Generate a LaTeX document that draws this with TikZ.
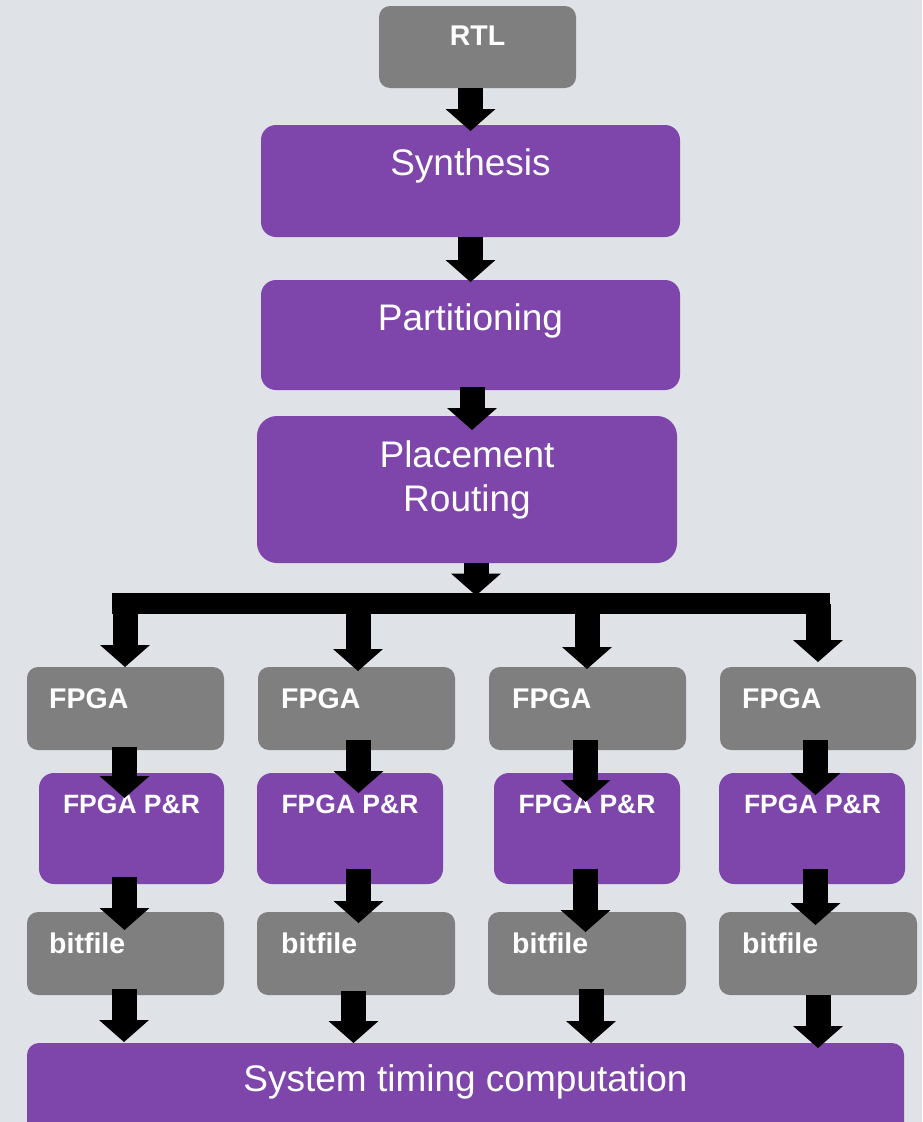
\documentclass[tikz,border=0pt]{standalone}
\usepackage{fontspec}
\setmainfont{Liberation Sans}
\usetikzlibrary{arrows.meta,calc}
\definecolor{canvas}{HTML}{DFE2E7}
\definecolor{boxgray}{HTML}{7F7F7F}
\definecolor{boxpurple}{HTML}{7E45AB}
\begin{document}
\begin{tikzpicture}[x=1pt,y=-1pt,
  box/.style={anchor=north west, inner sep=0pt, outer sep=0pt, draw=none},
  graybox/.style={box, fill=boxgray, rounded corners=11pt},
  purplebox/.style={box, fill=boxpurple, rounded corners=15pt},
  biglabel/.style={text=white, font=\fontsize{37}{44}\selectfont, inner sep=0pt, anchor=base, align=center},
  smalllabel/.style={text=white, font=\bfseries\fontsize{28.5}{34}\selectfont, inner sep=0pt},
  prlabel/.style={text=white, font=\bfseries\fontsize{26.5}{32}\selectfont, inner sep=0pt, anchor=base},
  blk/.style={draw=black, line width=25pt, -{Triangle[width=50pt,length=22pt,line width=0pt]}},
  bus/.style={draw=black, line width=21pt, line cap=butt}
]
% page and background
\path[use as bounding box] (0,0) rectangle (922,1122);
\clip (0,0) rectangle (922,1122);
\fill[canvas] (0,0) rectangle (922,1122);

% main flow
\node[graybox, minimum width=197pt, minimum height=82pt] (rtl) at (379,6) {};
\node[purplebox, minimum width=419pt, minimum height=112pt] (syn) at (261,125) {};
\node[purplebox, minimum width=419pt, minimum height=110pt] (part) at (261,280) {};
\node[purplebox, minimum width=420pt, minimum height=147pt, rounded corners=20pt] (place) at (257,416) {};

% per-FPGA columns
\node[graybox, minimum width=197pt, minimum height=83pt] (fpga1) at (27,667) {};
\node[graybox, minimum width=197pt, minimum height=83pt] (fpga2) at (258,667) {};
\node[graybox, minimum width=197pt, minimum height=83pt] (fpga3) at (489,667) {};
\node[graybox, minimum width=196pt, minimum height=83pt] (fpga4) at (720,667) {};

\node[purplebox, minimum width=185pt, minimum height=111pt] (pr1) at (39,773) {};
\node[purplebox, minimum width=186pt, minimum height=111pt] (pr2) at (257,773) {};
\node[purplebox, minimum width=186pt, minimum height=111pt] (pr3) at (494,773) {};
\node[purplebox, minimum width=186pt, minimum height=111pt] (pr4) at (719,773) {};

\node[graybox, minimum width=197pt, minimum height=83pt] (bit1) at (27,912) {};
\node[graybox, minimum width=198pt, minimum height=83pt] (bit2) at (257,912) {};
\node[graybox, minimum width=198pt, minimum height=83pt] (bit3) at (488,912) {};
\node[graybox, minimum width=198pt, minimum height=83pt] (bit4) at (719,912) {};

\node[purplebox, rounded corners=12pt, minimum width=877pt, minimum height=110pt] (sys) at (27,1043) {};

% labels
\node[smalllabel, anchor=base] (rtlT) at (477.5,45) {RTL};
\node[biglabel] (synT) at (470.5,175) {Synthesis};
\node[biglabel] (partT) at (470.5,330) {Partitioning};
\node[biglabel] (placeT) at (467,511) {Placement\\Routing};
\node[biglabel] (sysT) at (465.5,1091) {System timing computation};

\node[smalllabel, anchor=base west] (fpga1T) at (49,708) {FPGA};
\node[smalllabel, anchor=base west] (fpga2T) at (281,708) {FPGA};
\node[smalllabel, anchor=base west] (fpga3T) at (512,708) {FPGA};
\node[smalllabel, anchor=base west] (fpga4T) at (742,708) {FPGA};

\node[prlabel] (pr1T) at (131.5,813) {FPGA P\&R};
\node[prlabel] (pr2T) at (350,813) {FPGA P\&R};
\node[prlabel] (pr3T) at (587,813) {FPGA P\&R};
\node[prlabel] (pr4T) at (812.5,813) {FPGA P\&R};

\node[smalllabel, anchor=base west] (bit1T) at (49,953) {bitfile};
\node[smalllabel, anchor=base west] (bit2T) at (281,953) {bitfile};
\node[smalllabel, anchor=base west] (bit3T) at (512,953) {bitfile};
\node[smalllabel, anchor=base west] (bit4T) at (742,953) {bitfile};

% block arrows of the main flow
\draw[blk] (rtl.south -| syn.north) -- ($(syn.north)+(0,6)$);
\draw[blk] (syn.south) -- ($(part.north)+(0,2)$);
\draw[blk] ($(part.south)+(1.5,-3)$) -- ($(place.north)+(5,14)$);

% distribution bar
\coordinate (busL) at (112,603.5);
\coordinate (busR) at (830,603.5);
\draw[bus] (busL) -- (busR);
\draw[blk] ($(place.south)+(9,0)$) -- ($(busL -| place.south)+(9,-8)$);

% branches to each FPGA
\draw[blk] ($(fpga1.north |- busL)+(-0.5,0)$) -- ($(fpga1.north)+(-0.5,0)$);
\draw[blk] ($(fpga2.north |- busL)+(1.5,0)$) -- ($(fpga2.north)+(1.5,4)$);
\draw[blk] ($(fpga3.north |- busL)+(-0.5,0)$) -- ($(fpga3.north)+(-0.5,2)$);
\draw[blk] (fpga4.north |- busL) -- ($(fpga4.north)+(0,-5)$);

% FPGA -> FPGA P&R
\draw[blk] ($(fpga1.south)+(-1,-3)$) -- ($(pr1.north)+(-7,25)$);
\draw[blk] ($(fpga2.south)+(2,-10)$) -- ($(pr2.north)+(8.5,20)$);
\draw[blk] ($(fpga3.south)+(-2,-10)$) -- ($(pr3.north)+(-1.5,29)$);
\draw[blk] ($(fpga4.south)+(-2.5,-10)$) -- ($(pr4.north)+(3.5,22)$);

% FPGA P&R -> bitfile
\draw[blk] ($(pr1.south)+(-7,-7)$) -- ($(bit1.north)+(-1,18)$);
\draw[blk] ($(pr2.south)+(8.5,-15)$) -- ($(bit2.north)+(2.5,11)$);
\draw[blk] ($(pr3.south)+(-1.5,-15)$) -- ($(bit3.north)+(-1.5,20)$);
\draw[blk] ($(pr4.south)+(3.5,-15)$) -- ($(bit4.north)+(-2.5,13)$);

% bitfile -> system timing
\draw[blk] ($(bit1.south)+(-1.5,-6)$) -- ($(sys.north)+(-341.5,-1)$);
\draw[blk] ($(bit2.south)+(-2.5,-4)$) -- ($(sys.north)+(-112,0)$);
\draw[blk] ($(bit3.south)+(4,-6)$) -- ($(sys.north)+(125.5,0)$);
\draw[blk] (bit4.south) -- ($(sys.north)+(352.5,5)$);
\end{tikzpicture}
\end{document}
